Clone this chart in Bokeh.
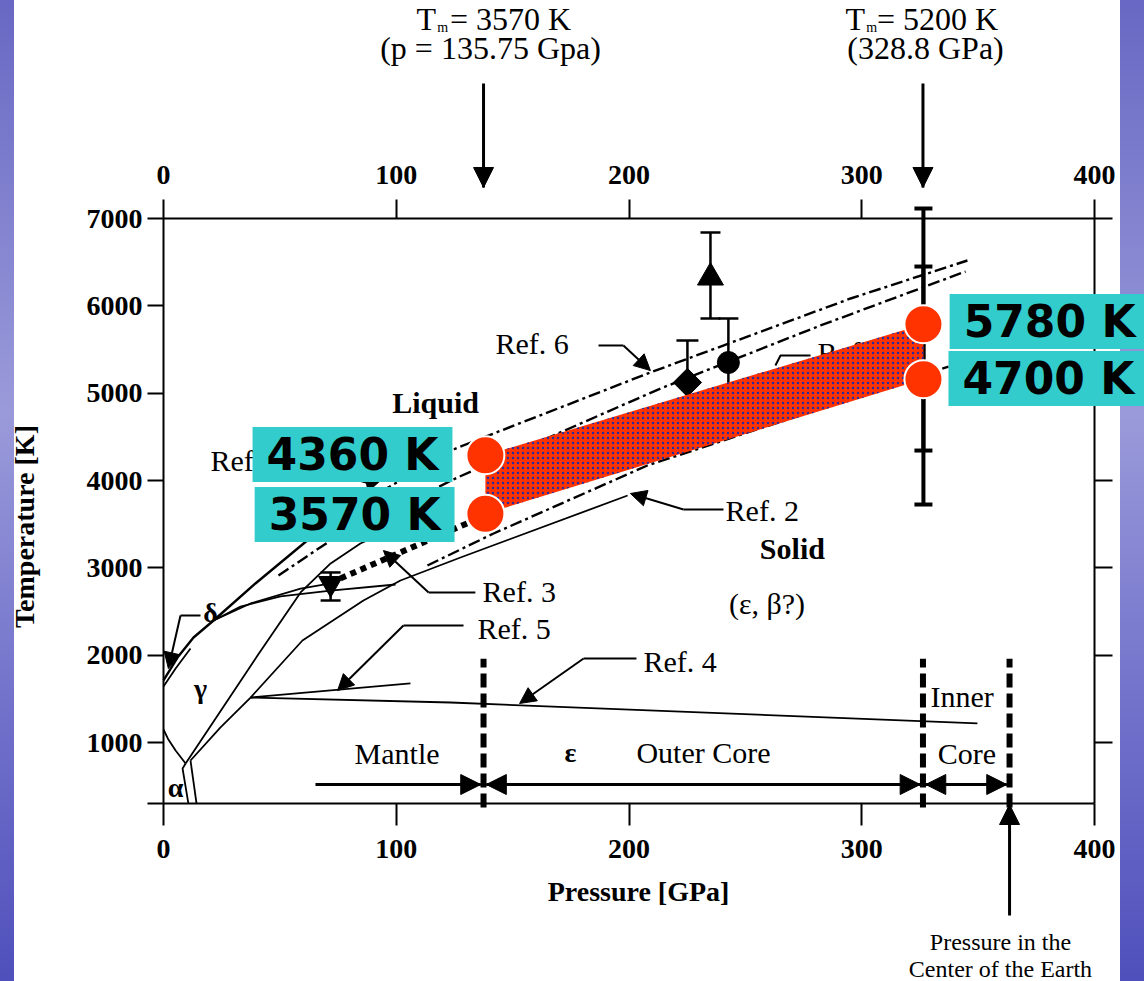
import numpy as np
from bokeh.plotting import figure
from bokeh.models import (Range1d, LinearAxis, FixedTicker, Label, Arrow, NormalHead,
                          Whisker, ColumnDataSource)
from bokeh.core.properties import value
from bokeh.embed import file_html
from bokeh.resources import INLINE

# ---------------- data ----------------
x_ticks = [0, 100, 200, 300, 400]
y_ticks = [1000, 2000, 3000, 4000, 5000, 6000, 7000]
x_lim = (0, 400)
y_lim = (300, 7000)

# phase boundaries (pressure GPa, temperature K)
alpha_gamma_p = [0, 2.1, 5.2, 9.5]
alpha_gamma_t = [1149, 1034, 908, 760]
alpha_eps1_p = [9.5, 8.2, 10.7]
alpha_eps1_t = [760, 702, 300]
alpha_eps2_p = [11.6, 14.2]
alpha_eps2_t = [794, 300]
gamma_eps_p = [9.5, 40.4, 58.9, 71.8, 84.6, 106.1]
gamma_eps_t = [760, 1996, 2718, 3050, 3279, 3542]
ref2_p = [11.6, 24.5, 37.4, 59.7, 85.9, 101.8, 127.6, 199.4]
ref2_t = [794, 1172, 1515, 2168, 2626, 2855, 3118, 3828]
ref5_p = [37.4, 106.1]
ref5_t = [1515, 1676]
ref4_p = [37.4, 123.3, 349.7]
ref4_t = [1515, 1458, 1218]
delta_gamma_p = [0, 5.2, 11.6]
delta_gamma_t = [1641, 1847, 2076]
melt_p = [0, 6.0, 12.9, 21.5, 39.5, 60.2, 93.2, 119.0]
melt_t = [1710, 1973, 2202, 2397, 2821, 3279, 4011, 4515]
fan1_p = [21.5, 33.1, 50.3, 71.8, 99.7]
fan1_t = [2397, 2557, 2672, 2740, 2809]
fan2_p = [21.5, 37.4, 58.9, 71.8]
fan2_t = [2397, 2592, 2763, 2821]
dd1_p = [84.6, 125.5, 141.8, 209.2, 295.2, 345.4]
dd1_t = [3737, 4366, 4538, 5237, 6084, 6519]
dd2_p = [49.4, 71.8, 126.3, 213.5, 282.3, 344.6]
dd2_t = [2912, 3313, 4034, 5053, 5775, 6393]
dd3_p = [113.4, 141.8, 207.9, 337.3]
dd3_t = [3027, 3393, 4172, 5305]
ref3_p = [76.0, 138.3]
ref3_t = [2878, 3600]

# experimental points with error bars
tri_p, tri_t, tri_lo, tri_hi = [235.0], [6324], [5855], [6840]
circ_p, circ_t, circ_lo, circ_hi = [242.7], [5351], [4851], [5855]
dia_p, dia_t, dia_lo, dia_hi = [225.1], [5122], [4641], [5603]
inv_p, inv_t, inv_lo, inv_hi = [71.8], [2821], [2626], [2947]
big_p = [326.5]
big_outer_lo, big_outer_hi = [3725], [7115]
big_inner_lo, big_inner_hi = [4343], [6450]

# estimated melting band (endpoints)
band_p = [138.3, 326.5]
band_hi = [4290, 5790]
band_lo = [3620, 5160]
band_labels = ["4360 K", "3570 K", "5780 K", "4700 K"]

# Earth layer boundaries (GPa)
cmb, icb, center = 137.5, 326.3, 363.5
boundary_top, boundary_bottom = 1960, 255
layer_arrow_t = 519
mantle_arrow_start = 65.3

ref_texts = ["Ref. 1", "Ref. 2", "Ref. 3", "Ref. 4", "Ref. 5", "Ref. 6"]
ref_text_p = [20.2, 241.5, 137.1, 206.2, 134.9, 142.6]
ref_text_t = [4229, 3656, 2729, 1927, 2305, 5569]

# ---------------- figure ----------------
# The frame fills the whole canvas; axes are pinned at the data limits.
W, H = 1144, 981
px_per_gpa = 931 / 400.0
px_per_k = 524 / 6000.0
x0_px, y7000_px = 163, 218
x_range = Range1d(-x0_px / px_per_gpa, (W - x0_px) / px_per_gpa)
y_range = Range1d(7000 - (H - y7000_px) / px_per_k, 7000 + y7000_px / px_per_k)

p = figure(width=W, height=H, x_range=x_range, y_range=y_range,
           output_backend="svg", toolbar_location=None,
           x_axis_location=None, y_axis_location=None, min_border=0)
p.border_fill_color = None
p.background_fill_color = None
p.outline_line_color = None
p.grid.visible = False
p.styles = {"background": "linear-gradient(to right, transparent 0px, transparent 14px, #ffffff 14px, #ffffff 1120px, transparent 1120px), linear-gradient(to bottom, #6868c4 0%, #9a9ada 42%, #7474cc 70%, #5050bc 100%)"}

SERIF = "Liberation Serif"


def make_axis(ticks, loc, bounds, tick_out, standoff, labels=True):
    ax = LinearAxis(ticker=FixedTicker(ticks=ticks, minor_ticks=[]), fixed_location=loc,
                    bounds=bounds)
    ax.axis_line_width = 2
    ax.axis_line_color = "black"
    ax.major_tick_line_width = 2
    ax.major_tick_line_color = "black"
    ax.major_tick_in = 0
    ax.major_tick_out = tick_out
    ax.minor_tick_line_color = None
    ax.major_label_text_font = SERIF
    ax.major_label_text_font_style = "bold"
    ax.major_label_text_font_size = "28px"
    ax.major_label_text_color = "black"
    ax.major_label_standoff = standoff
    if not labels:
        ax.major_label_overrides = {t: "" for t in ticks}
    return ax


bottom_ax = make_axis(x_ticks, y_lim[0], x_lim, 22, 14)
p.add_layout(bottom_ax, "below")
top_ax = make_axis(x_ticks, y_lim[1], x_lim, 19, 16)
p.add_layout(top_ax, "above")
left_ax = make_axis([300] + y_ticks, x_lim[0], y_lim, 16, 5)
left_ax.major_label_overrides = {300: ""}
p.add_layout(left_ax, "left")
right_ax = make_axis(y_ticks, x_lim[1], y_lim, 18, 4, labels=False)
p.add_layout(right_ax, "right")

# axis titles
p.text(x=[204.1], y=[-706], text=["Pressure [GPa]"], text_font=value(SERIF),
       text_font_size="28px", text_font_style="bold", text_align="center",
       text_baseline="middle", text_color="black")
p.text(x=[-59.7], y=[3473], text=["Temperature [K]"], angle=np.pi / 2, text_font=value(SERIF),
       text_font_size="28px", text_font_style="bold", text_align="center",
       text_baseline="middle", text_color="black")

# ---------------- curves ----------------
thin = dict(line_color="black", line_width=1.8)
for xs, ys in [(alpha_gamma_p, alpha_gamma_t), (alpha_eps1_p, alpha_eps1_t),
               (alpha_eps2_p, alpha_eps2_t), (gamma_eps_p, gamma_eps_t),
               (ref2_p, ref2_t), (ref5_p, ref5_t), (ref4_p, ref4_t),
               (delta_gamma_p, delta_gamma_t), (fan1_p, fan1_t), (fan2_p, fan2_t)]:
    p.line(xs, ys, **thin)
p.line(melt_p, melt_t, line_color="black", line_width=2.4)

for xs, ys in [(dd1_p, dd1_t), (dd2_p, dd2_t), (dd3_p, dd3_t)]:
    p.line(xs, ys, line_color="black", line_width=2.4, line_dash="12 4 3 4")

p.line(ref3_p, ref3_t, line_color="black", line_width=6, line_dash="6 5")

# layer boundaries
p.segment(x0=[cmb, icb, center], y0=[boundary_bottom] * 3, x1=[cmb, icb, center],
          y1=[boundary_top] * 3, line_color="black", line_width=6, line_dash="14 6")

# error bars and markers
for xs, lo, hi, w, cap in [(tri_p, tri_lo, tri_hi, 2.5, 20), (circ_p, circ_lo, circ_hi, 2.5, 20),
                           (dia_p, dia_lo, dia_hi, 2.5, 22), (inv_p, inv_lo, inv_hi, 2.5, 20),
                           (big_p, big_outer_lo, big_outer_hi, 4, 18),
                           (big_p, big_inner_lo, big_inner_hi, 4, 18)]:
    p.segment(x0=xs, y0=lo, x1=xs, y1=hi, line_color="black", line_width=w)
    p.scatter(x=xs + xs, y=lo + hi, marker="dash", size=cap, line_color="black", line_width=w)

p.scatter(tri_p, tri_t, marker="triangle", size=26, color="black")
p.scatter(circ_p, circ_t, marker="circle", size=22, color="black")
p.scatter(dia_p, dia_t, marker="square", angle=np.pi / 4, size=20, color="black")
p.scatter(inv_p, inv_t, marker="inverted_triangle", size=24, color="black")

# hidden reference label under the band
p.line([262.9, 265.1, 278.0], [5317, 5431, 5431], line_color="black", line_width=2)
p.text(x=[281.0], y=[5466], text=["Ref. 7"], text_font=value(SERIF), text_font_size="30px",
       text_align="left", text_baseline="middle", text_color="black")

# Ref. 1 leader (partly hidden behind the value boxes)
p.line([63.2, 90.0], [4160, 3955], line_color="black", line_width=2)
p.scatter(x=[89.0], y=[3962], marker="triangle", angle=-1.35, size=14, color="black")

# melting band
p.varea(x=band_p, y1=band_lo, y2=band_hi, fill_color="#FF3300", hatch_pattern=".",
        hatch_color="#2a2aa0", hatch_scale=5, hatch_weight=1.5)
p.scatter(x=band_p + band_p, y=band_hi + band_lo, size=38, fill_color="#FF3300",
          line_color="white", line_width=2)

# ---------------- texts ----------------
p.text(x=ref_text_p, y=ref_text_t, text=ref_texts, text_font=value(SERIF), text_font_size="30px",
       text_align="left", text_baseline="middle", text_color="black")
p.text(x=[116.9, 270.2], y=[4893, 3221], text=["Liquid", "Solid"], text_font=value(SERIF),
       text_font_size="30px", text_font_style="bold", text_align="center",
       text_baseline="middle", text_color="black")
p.text(x=[259.3], y=[2592], text=["(ε, β?)"], text_font=value(SERIF), text_font_size="30px",
       text_align="center", text_baseline="middle", text_color="black")
p.text(x=[82.1, 203.2, 329.5, 332.6], y=[874, 885, 1527, 874],
       text=["Mantle", "Outer Core", "Inner", "Core"], text_font=value(SERIF),
       text_font_size="30px", text_align="left", text_baseline="middle", text_color="black")
p.text(x=[174.9, 15.9, 5.2, 20.2], y=[885, 1618, 485, 2489], text=["ε", "γ", "α", "δ"],
       text_font=value(SERIF), text_font_size="28px", text_font_style="bold",
       text_align="center", text_baseline="middle", text_color="black")

# annotations above and below the diagram
p.text(x=[108.7, 293.0], y=[9290, 9290], text=["T", "T"], text_font=value(SERIF),
       text_font_size="32px", text_align="left", text_baseline="middle", text_color="black")
p.text(x=[117.6, 301.9], y=[9185, 9185], text=["m", "m"], text_font=value(SERIF),
       text_font_size="14px", text_align="left", text_baseline="middle", text_color="black")
p.text(x=[123.1, 306.5], y=[9290, 9290], text=["= 3570 K", "= 5200 K"], text_font=value(SERIF),
       text_font_size="32px", text_align="left", text_baseline="middle", text_color="black")
p.text(x=[140.5, 327.4], y=[8950, 8950], text=["(p = 135.75 Gpa)", "(328.8 GPa)"],
       text_font=value(SERIF), text_font_size="32px", text_align="center",
       text_baseline="middle", text_color="black")
p.text(x=[359.6, 359.6], y=[-1290, -1590], text=["Pressure in the", "Center of the Earth"],
       text_font=value(SERIF), text_font_size="24px", text_align="center",
       text_baseline="middle", text_color="black")

# leader lines (horizontal parts)
leaders = [([186.9, 197.6], [5546, 5546]), ([240.6, 223.4], [3668, 3668]),
           ([134.0, 113.9], [2718, 2718]), ([128.9, 103.1], [2340, 2340]),
           ([203.2, 180.5], [1962, 1962]), ([15.9, 7.3], [2454, 2454])]
for xs, ys in leaders:
    p.line(xs, ys, line_color="black", line_width=2)

# ---------------- annotations ----------------
box_x = [81.2, 82.1, 380.7, 380.2]
box_y = [4298, 3611, 5821, 5168]
for bxv, byv, t in zip(box_x, box_y, band_labels):
    p.add_layout(Label(x=bxv, y=byv, text=t, text_font="DejaVu Sans", text_font_style="bold",
                       text_font_size="44px", text_align="center", text_baseline="middle",
                       text_color="black", background_fill_color="#33CCCC",
                       padding=dict(left=14, right=14, top=2, bottom=2)))

head = dict(size=20, fill_color="black", line_color="black", line_width=1)
p.add_layout(Whisker(source=ColumnDataSource(dict(b=[cmb, icb], lo=[7355, 7355], hi=[8546, 8546])),
                     base="b", lower="lo", upper="hi", dimension="height", line_width=3,
                     line_color="black", lower_head=NormalHead(**head), upper_head=None))
p.add_layout(Whisker(source=ColumnDataSource(dict(b=[center], lo=[-981], hi=[290])),
                     base="b", lower="lo", upper="hi", dimension="height", line_width=3,
                     line_color="black", lower_head=None, upper_head=NormalHead(**head)))
p.add_layout(Whisker(source=ColumnDataSource(dict(b=[layer_arrow_t], lo=[mantle_arrow_start],
                                                  hi=[cmb - 1.2])),
                     base="b", lower="lo", upper="hi", dimension="width", line_width=3,
                     line_color="black", lower_head=None, upper_head=NormalHead(**head)))
p.add_layout(Whisker(source=ColumnDataSource(dict(b=[layer_arrow_t] * 2, lo=[cmb + 1.2, icb + 1.2],
                                                  hi=[icb - 1.2, center - 1.2])),
                     base="b", lower="lo", upper="hi", dimension="width", line_width=3,
                     line_color="black", lower_head=NormalHead(**head),
                     upper_head=NormalHead(**head)))


def arrow(x0, y0, x1, y1, size=16, w=2):
    hd = dict(size=size, fill_color="black", line_color="black", line_width=1)
    p.add_layout(Arrow(x_start=x0, y_start=y0, x_end=x1, y_end=y1, line_width=w,
                       line_color="black", end=NormalHead(**hd)))


arrow(197.6, 5546, 209.2, 5259)
arrow(223.4, 3668, 200.6, 3851)
arrow(113.9, 2718, 94.5, 3198)
arrow(103.1, 2340, 74.8, 1595)
arrow(180.5, 1962, 153.0, 1447)
arrow(7.3, 2454, 2.1, 1847)

open("out.html", "w").write(file_html(p, INLINE))
